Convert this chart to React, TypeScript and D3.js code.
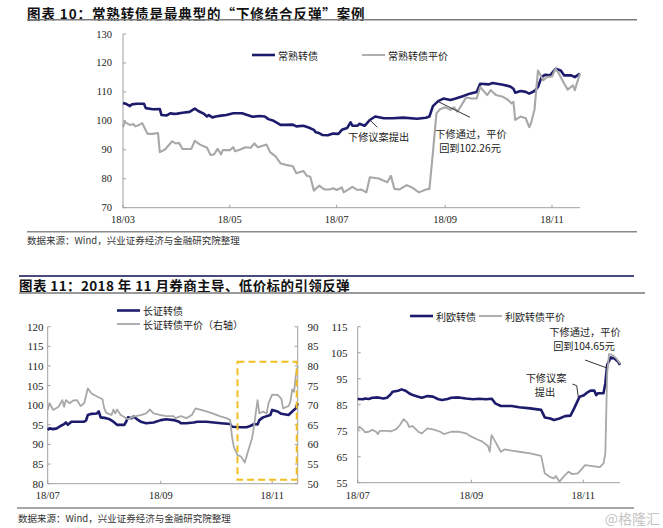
import React from 'react'
import * as d3 from 'd3'

const NAVY = '#1d1c6c'
const GREY = '#a8a8a8'
const AXIS = '#a0a0a0'
const SERIF = '"Liberation Serif", "Times New Roman", serif'
const SANS = '"Noto Sans CJK SC", "Noto Sans", sans-serif'

// 图表10：常熟转债 / 常熟转债平价 (2018)
const csBond: [string, number][] = [
  ['03-01', 106.2], ['03-03', 105.8], ['03-05', 105.1], ['03-06', 105.7], ['03-09', 105.9],
  ['03-13', 105.9], ['03-14', 104.4], ['03-18', 104.0], ['03-22', 104.1], ['03-23', 102.0],
  ['03-26', 101.9], ['03-28', 102.6], ['03-30', 102.4], ['04-01', 102.5], ['04-04', 102.8],
  ['04-08', 103.1], ['04-11', 104.2], ['04-13', 103.4], ['04-16', 102.5], ['04-18', 101.5],
  ['04-19', 102.0], ['04-21', 101.2], ['04-23', 101.5], ['04-26', 101.8], ['04-29', 102.0],
  ['05-03', 102.6], ['05-08', 102.6], ['05-11', 102.0], ['05-14', 101.4], ['05-18', 101.7],
  ['05-21', 101.5], ['05-23', 100.6], ['05-26', 100.0], ['05-30', 98.6], ['06-02', 98.6],
  ['06-06', 98.7], ['06-08', 98.1], ['06-12', 98.3], ['06-15', 97.7], ['06-18', 96.9],
  ['06-19', 96.1], ['06-21', 95.8], ['06-23', 95.1], ['06-26', 95.0], ['06-29', 95.6],
  ['07-02', 95.5], ['07-04', 96.9], ['07-07', 97.5], ['07-09', 99.5], ['07-10', 98.3],
  ['07-13', 98.3], ['07-14', 99.0], ['07-17', 98.3], ['07-20', 100.3], ['07-23', 101.5],
  ['07-28', 100.9], ['08-02', 100.9], ['08-08', 101.1], ['08-16', 100.7], ['08-21', 101.1],
  ['08-23', 101.5], ['08-25', 105.1], ['08-28', 106.8], ['08-31', 107.7], ['09-04', 107.2],
  ['09-07', 107.7], ['09-11', 108.5], ['09-15', 109.4], ['09-19', 110.0], ['09-21', 112.8],
  ['09-26', 112.6], ['09-28', 113.1], ['10-04', 112.5], ['10-08', 111.9], ['10-10', 111.1],
  ['10-11', 109.7], ['10-14', 110.3], ['10-17', 110.0], ['10-19', 109.4], ['10-22', 110.3],
  ['10-24', 111.7], ['10-26', 115.1], ['10-28', 115.9], ['10-31', 115.7], ['11-03', 118.0],
  ['11-06', 117.4], ['11-08', 115.7], ['11-12', 115.7], ['11-14', 115.1], ['11-17', 116.3],
]
const csParity: [string, number][] = [
  ['03-01', 97.8], ['03-02', 99.8], ['03-03', 99.2], ['03-05', 98.6], ['03-07', 98.9],
  ['03-08', 98.1], ['03-10', 98.5], ['03-12', 99.2], ['03-15', 95.5], ['03-18', 95.5],
  ['03-21', 95.8], ['03-22', 89.2], ['03-25', 90.1], ['03-29', 92.9], ['03-31', 92.2],
  ['04-02', 92.4], ['04-04', 90.3], ['04-09', 90.3], ['04-11', 93.1], ['04-14', 91.8],
  ['04-18', 90.7], ['04-20', 88.2], ['04-22', 88.4], ['04-24', 90.3], ['04-26', 88.4],
  ['04-27', 89.9], ['05-01', 89.9], ['05-03', 90.9], ['05-04', 89.5], ['05-07', 90.1],
  ['05-10', 90.9], ['05-13', 90.7], ['05-15', 92.2], ['05-17', 90.9], ['05-22', 91.8],
  ['05-24', 89.2], ['05-27', 87.8], ['05-30', 85.3], ['06-02', 84.8], ['06-06', 84.3],
  ['06-08', 81.9], ['06-12', 82.7], ['06-14', 81.0], ['06-16', 80.7], ['06-18', 75.9],
  ['06-21', 77.6], ['06-24', 76.3], ['06-27', 76.3], ['06-29', 76.7], ['07-01', 76.1],
  ['07-04', 77.0], ['07-05', 75.3], ['07-08', 76.4], ['07-10', 77.2], ['07-13', 76.1],
  ['07-15', 76.3], ['07-18', 75.3], ['07-20', 80.5], ['07-25', 80.1], ['07-30', 78.8],
  ['08-01', 81.0], ['08-03', 76.5], ['08-06', 76.3], ['08-10', 77.8], ['08-13', 77.0],
  ['08-17', 75.3], ['08-21', 76.3], ['08-23', 76.5], ['08-25', 89.0], ['08-27', 102.6],
  ['08-29', 104.0], ['09-01', 104.7], ['09-04', 103.8], ['09-06', 104.7], ['09-08', 103.2],
  ['09-10', 105.1], ['09-13', 108.1], ['09-16', 107.7], ['09-19', 107.7], ['09-21', 111.7],
  ['09-25', 108.9], ['09-27', 110.6], ['09-30', 108.9], ['10-04', 108.3], ['10-07', 107.2],
  ['10-09', 106.0], ['10-10', 106.6], ['10-11', 100.3], ['10-14', 101.5], ['10-17', 100.9],
  ['10-19', 97.8], ['10-20', 99.2], ['10-22', 103.8], ['10-24', 117.4], ['10-27', 114.0],
  ['10-29', 115.1], ['11-01', 115.3], ['11-03', 118.0], ['11-05', 116.3], ['11-08', 112.8],
  ['11-10', 110.8], ['11-13', 112.3], ['11-14', 110.6], ['11-17', 116.3],
]
const csYTicks = [70, 80, 90, 100, 110, 120, 130]
const csXTicks = ['03-01', '05-01', '07-01', '09-01', '11-01']

// 图表11 左：长证转债 / 长证转债平价（右轴）
const czBond: [string, number][] = [
  ['07-01', 93.7], ['07-02', 94.1], ['07-04', 93.9], ['07-06', 94.1], ['07-08', 94.7],
  ['07-10', 95.2], ['07-11', 95.6], ['07-12', 95.0], ['07-14', 95.8], ['07-18', 95.8],
  ['07-21', 95.8], ['07-22', 96.1], ['07-23', 97.5], ['07-25', 97.8], ['07-28', 97.9],
  ['07-29', 98.4], ['07-30', 96.9], ['08-02', 96.7], ['08-04', 96.4], ['08-06', 95.8],
  ['08-08', 95.0], ['08-12', 95.0], ['08-13', 95.8], ['08-14', 96.9], ['08-16', 96.7],
  ['08-17', 97.1], ['08-19', 96.4], ['08-21', 95.8], ['08-24', 95.4], ['08-28', 95.6],
  ['09-01', 96.2], ['09-04', 96.4], ['09-08', 96.2], ['09-11', 95.8], ['09-12', 95.4],
  ['09-15', 95.4], ['09-19', 95.6], ['09-21', 95.8], ['09-26', 95.8], ['09-30', 95.6],
  ['10-04', 95.4], ['10-09', 95.2], ['10-10', 94.5], ['10-15', 94.4], ['10-18', 94.4],
  ['10-20', 94.7], ['10-22', 95.2], ['10-24', 95.1], ['10-25', 96.2], ['10-27', 96.9],
  ['10-31', 97.5], ['11-01', 98.8], ['11-04', 98.4], ['11-06', 97.8], ['11-10', 97.5],
  ['11-12', 98.4], ['11-14', 99.2], ['11-15', 100.5],
]
const czParity: [string, number][] = [
  ['07-01', 68.8], ['07-02', 70.5], ['07-04', 68.8], ['07-07', 69.6], ['07-09', 71.3],
  ['07-10', 69.6], ['07-11', 71.3], ['07-13', 70.5], ['07-15', 71.2], ['07-17', 71.3],
  ['07-19', 69.8], ['07-21', 70.5], ['07-23', 74.3], ['07-25', 73.0], ['07-28', 72.2],
  ['07-31', 71.5], ['08-01', 69.2], ['08-02', 68.1], ['08-05', 67.5], ['08-06', 68.9],
  ['08-07', 67.9], ['08-08', 68.9], ['08-10', 67.5], ['08-14', 66.4], ['08-17', 67.1],
  ['08-21', 67.5], ['08-24', 67.9], ['08-26', 68.9], ['08-28', 67.9], ['09-01', 67.5],
  ['09-04', 67.2], ['09-08', 67.2], ['09-09', 66.7], ['09-12', 67.2], ['09-15', 66.7],
  ['09-18', 67.5], ['09-20', 69.2], ['09-23', 68.8], ['09-26', 68.4], ['09-30', 67.8],
  ['10-04', 67.1], ['10-07', 66.7], ['10-09', 66.2], ['10-10', 62.0], ['10-11', 59.4],
  ['10-13', 57.3], ['10-15', 56.9], ['10-17', 55.4], ['10-19', 58.6], ['10-21', 61.6],
  ['10-22', 64.5], ['10-23', 67.9], ['10-24', 71.3], ['10-25', 67.9], ['10-27', 68.4],
  ['10-29', 67.9], ['10-30', 70.5], ['11-01', 72.7], ['11-04', 72.6], ['11-06', 71.7],
  ['11-07', 69.2], ['11-10', 69.8], ['11-11', 70.9], ['11-12', 74.0], ['11-13', 73.4],
  ['11-14', 77.7], ['11-15', 79.8],
]
const czLeftTicks = [80, 85, 90, 95, 100, 105, 110, 115, 120]
const czRightTicks = [50, 55, 60, 65, 70, 75, 80, 85, 90]
const bottomXTicks = ['07-01', '09-01', '11-01']

// 图表11 右：利欧转债 / 利欧转债平价
const loBond: [string, number][] = [
  ['07-01', 87.2], ['07-04', 87.1], ['07-05', 87.4], ['07-07', 87.2], ['07-09', 87.7],
  ['07-12', 87.8], ['07-15', 87.4], ['07-17', 87.7], ['07-19', 89.0], ['07-20', 90.0],
  ['07-23', 90.4], ['07-25', 90.9], ['07-27', 90.4], ['07-29', 89.4], ['07-31', 88.7],
  ['08-03', 88.1], ['08-05', 87.7], ['08-08', 88.3], ['08-11', 88.1], ['08-14', 87.1],
  ['08-16', 86.8], ['08-19', 87.2], ['08-21', 87.7], ['08-25', 87.8], ['08-29', 87.4],
  ['09-02', 87.1], ['09-05', 87.3], ['09-09', 87.1], ['09-12', 87.3], ['09-13', 86.5],
  ['09-14', 85.5], ['09-17', 84.5], ['09-20', 84.5], ['09-23', 84.5], ['09-27', 84.0],
  ['10-03', 83.6], ['10-09', 83.0], ['10-11', 80.1], ['10-14', 79.7], ['10-16', 79.1],
  ['10-19', 79.7], ['10-22', 80.6], ['10-25', 80.8], ['10-27', 83.6], ['10-30', 88.1],
  ['11-01', 88.5], ['11-03', 89.6], ['11-05', 90.4], ['11-07', 90.4], ['11-08', 88.7],
  ['11-09', 89.4], ['11-12', 89.4], ['11-13', 93.2], ['11-14', 100.3], ['11-16', 103.2],
  ['11-18', 102.8], ['11-20', 101.5], ['11-21', 100.3],
]
const loParity: [string, number][] = [
  ['07-01', 75.5], ['07-02', 76.5], ['07-04', 75.3], ['07-05', 74.4], ['07-07', 74.6],
  ['07-09', 75.3], ['07-11', 74.6], ['07-12', 73.7], ['07-13', 74.9], ['07-17', 74.9],
  ['07-19', 74.7], ['07-22', 75.6], ['07-24', 77.2], ['07-26', 79.4], ['07-28', 78.1],
  ['07-29', 76.5], ['07-31', 76.8], ['08-03', 74.6], ['08-05', 74.0], ['08-08', 75.9],
  ['08-11', 75.5], ['08-15', 74.6], ['08-17', 73.7], ['08-21', 74.6], ['08-25', 74.6],
  ['08-29', 74.0], ['09-01', 72.7], ['09-04', 71.7], ['09-07', 70.8], ['09-10', 69.1],
  ['09-11', 66.9], ['09-12', 73.3], ['09-14', 70.8], ['09-17', 66.9], ['09-19', 67.8],
  ['09-23', 67.3], ['09-27', 66.9], ['10-03', 66.3], ['10-09', 65.3], ['10-11', 58.6],
  ['10-14', 57.1], ['10-16', 56.7], ['10-17', 57.6], ['10-19', 55.4], ['10-22', 57.9],
  ['10-24', 59.2], ['10-26', 58.3], ['10-29', 58.6], ['10-31', 60.1], ['11-02', 61.8],
  ['11-05', 61.5], ['11-08', 61.2], ['11-10', 61.0], ['11-12', 62.4], ['11-13', 66.0],
  ['11-14', 97.0], ['11-15', 104.5], ['11-17', 104.1], ['11-19', 102.8], ['11-21', 100.9],
]
const loYTicks = [55, 65, 75, 85, 95, 105, 115]

const parse = (md: string) => new Date(`2018-${md}T00:00:00`)
const fmt = d3.timeFormat('%y/%m')

function linePath(data: [string, number][], x: any, y: any) {
  return d3.line<[string, number]>()
    .x(d => x(parse(d[0])))
    .y(d => y(d[1]))(data) || ''
}

function LeftAxis({ y, ticks, x, labelX, size = 10.5 }: any) {
  const [y0, y1] = y.range()
  return (
    <g>
      <line x1={x} x2={x} y1={y0} y2={y1} stroke={AXIS} strokeWidth={1} />
      {ticks.map((t: number) => (
        <g key={t}>
          <line x1={x} x2={x + 3} y1={y(t)} y2={y(t)} stroke={AXIS} />
          <text x={labelX} y={y(t)} textAnchor="end" dominantBaseline="central"
            fontFamily={SERIF} fontSize={size} fill="#222">{t}</text>
        </g>
      ))}
    </g>
  )
}

function RightAxis({ y, ticks, x, labelX, size = 10.5 }: any) {
  const [y0, y1] = y.range()
  return (
    <g>
      <line x1={x} x2={x} y1={y0} y2={y1} stroke={AXIS} strokeWidth={1} />
      {ticks.map((t: number) => (
        <g key={t}>
          <line x1={x} x2={x - 3} y1={y(t)} y2={y(t)} stroke={AXIS} />
          <text x={labelX} y={y(t)} textAnchor="start" dominantBaseline="central"
            fontFamily={SERIF} fontSize={size} fill="#222">{t}</text>
        </g>
      ))}
    </g>
  )
}

function BottomAxis({ x, ticks, y, labelY, size = 10.5 }: any) {
  const [x0, x1] = x.range()
  return (
    <g>
      <line x1={x0} x2={x1} y1={y} y2={y} stroke={AXIS} strokeWidth={1} />
      {ticks.map((t: string) => (
        <g key={t}>
          <line x1={x(parse(t))} x2={x(parse(t))} y1={y} y2={y - 3} stroke={AXIS} />
          <text x={x(parse(t))} y={labelY} textAnchor="middle" dominantBaseline="central"
            fontFamily={SERIF} fontSize={size} fill="#222">{fmt(parse(t))}</text>
        </g>
      ))}
    </g>
  )
}

function Legend({ x, y, color, width, label }: any) {
  return (
    <g>
      <line x1={x} x2={x + 23} y1={y} y2={y} stroke={color} strokeWidth={width} />
      <text x={x + 26} y={y} dominantBaseline="central" fontFamily={SANS} fontSize={10} fill="#222">{label}</text>
    </g>
  )
}

function Note({ x, y, children, anchor = 'middle' }: any) {
  return (
    <text x={x} y={y} textAnchor={anchor} dominantBaseline="central"
      fontFamily={SANS} fontSize={10.2} fill="#222">{children}</text>
  )
}

export default function App() {
  // 图表10 scales
  const xTop = d3.scaleTime().domain([parse('03-01'), parse('11-17')]).range([123, 580])
  const yTop = d3.scaleLinear().domain([70, 130]).range([207.7, 34])

  // 图表11 left
  const xBL = d3.scaleTime().domain([parse('07-01'), parse('11-15')]).range([47.7, 297.7])
  const yBL = d3.scaleLinear().domain([80, 120]).range([483.7, 326.7])
  const yBLR = d3.scaleLinear().domain([50, 90]).range([483.7, 326.7])

  // 图表11 right
  const xBR = d3.scaleTime().domain([parse('07-01'), parse('11-21')]).range([357.7, 620])
  const yBR = d3.scaleLinear().domain([55, 115]).range([482.7, 326.7])

  const boxX0 = xBL(parse('10-13'))
  const boxX1 = xBL(parse('11-15')) - 1
  const boxY0 = yBL(111.1)
  const boxY1 = yBL(81)

  return (
    <div style={{ position: 'fixed', left: 0, top: 0, background: '#fff' }}>
      <svg width={663} height={528} style={{ display: 'block' }}>
        <rect width={663} height={528} fill="#fff" />

        {/* 图表10 title */}
        <text x={27} y={13} dominantBaseline="central" fontFamily={SANS} fontWeight={700}
          fontSize={13.5} letterSpacing={0.9} fill="#111">图表 10：常熟转债是最典型的“下修结合反弹”案例</text>
        <line x1={27} x2={637} y1={19.8} y2={19.8} stroke="#7a7a7a" strokeWidth={1.5} />

        <LeftAxis y={yTop} ticks={csYTicks} x={123} labelX={112} />
        <BottomAxis x={xTop} ticks={csXTicks} y={207.7} labelY={219.5} />
        <path d={linePath(csBond, xTop, yTop)} fill="none" stroke={NAVY} strokeWidth={2.6} strokeLinejoin="round" />
        <path d={linePath(csParity, xTop, yTop)} fill="none" stroke={GREY} strokeWidth={2.1} strokeLinejoin="round" />

        <Legend x={252} y={55} color={NAVY} width={2.6} label="常熟转债" />
        <Legend x={362} y={55} color={GREY} width={1.8} label="常熟转债平价" />

        <line x1={369.3} y1={119.3} x2={377.3} y2={127.3} stroke="#333" strokeWidth={1} />
        <Note x={348} y={136.7} anchor="start">下修议案提出</Note>
        <line x1={438.3} y1={101.7} x2={470} y2={117.3} stroke="#333" strokeWidth={1} />
        <Note x={471} y={133.3}>下修通过，平价</Note>
        <Note x={470} y={147}>回到102.26元</Note>

        {/* source */}
        <line x1={27} x2={637} y1={231.7} y2={231.7} stroke="#8a8a8a" strokeWidth={1.5} />
        <text x={27} y={240} dominantBaseline="central" fontFamily={SANS} fontSize={9.5} fill="#333">数据来源：Wind，兴业证券经济与金融研究院整理</text>

        {/* 图表11 title */}
        <line x1={19} x2={634} y1={276} y2={276} stroke="#4b4a7c" strokeWidth={1.8} />
        <text x={19} y={285} dominantBaseline="central" fontFamily={SANS} fontWeight={700}
          fontSize={13.5} letterSpacing={0.4} fill="#111">图表 11：2018 年 11 月券商主导、低价标的引领反弹</text>
        <line x1={19} x2={645} y1={293} y2={293} stroke="#9a9a9a" strokeWidth={1.8} />

        {/* 左：长证 */}
        <LeftAxis y={yBL} ticks={czLeftTicks} x={47.7} labelX={43.5} size={11} />
        <RightAxis y={yBLR} ticks={czRightTicks} x={297.7} labelX={307.5} size={11} />
        <BottomAxis x={xBL} ticks={bottomXTicks} y={483.7} labelY={495.5} size={10.5} />
        <path d={linePath(czBond, xBL, yBL)} fill="none" stroke={NAVY} strokeWidth={2.6} strokeLinejoin="round" />
        <path d={linePath(czParity, xBL, yBLR)} fill="none" stroke={GREY} strokeWidth={1.8} strokeLinejoin="round" />
        <rect x={boxX0} y={boxY0} width={boxX1 - boxX0} height={boxY1 - boxY0}
          fill="none" stroke="#f2bf22" strokeWidth={2} strokeDasharray="7,4" />
        <Legend x={117} y={310.5} color={NAVY} width={2.6} label="长证转债" />
        <Legend x={117} y={324} color={GREY} width={1.8} label="长证转债平价（右轴）" />

        {/* 右：利欧 */}
        <LeftAxis y={yBR} ticks={loYTicks} x={357.7} labelX={347.5} size={11} />
        <BottomAxis x={xBR} ticks={bottomXTicks} y={482.7} labelY={495} size={10.5} />
        <path d={linePath(loBond, xBR, yBR)} fill="none" stroke={NAVY} strokeWidth={2.6} strokeLinejoin="round" />
        <path d={linePath(loParity, xBR, yBR)} fill="none" stroke={GREY} strokeWidth={1.8} strokeLinejoin="round" />
        <Legend x={410} y={316} color={NAVY} width={2.6} label="利欧转债" />
        <Legend x={479} y={316} color={GREY} width={1.8} label="利欧转债平价" />

        <Note x={585} y={331.7}>下修通过，平价</Note>
        <Note x={584} y={345.5}>回到104.65元</Note>
        <line x1={585} y1={360} x2={607} y2={368} stroke="#333" strokeWidth={1} />
        <Note x={546} y={377.5}>下修议案</Note>
        <Note x={545} y={391}>提出</Note>
        <polyline points="572.3,384 576.7,385.7 578.3,397" fill="none" stroke="#333" strokeWidth={1} />

        {/* source */}
        <line x1={17} x2={634} y1={508} y2={508} stroke="#8a8a8a" strokeWidth={1.5} />
        <text x={18} y={518} dominantBaseline="central" fontFamily={SANS} fontSize={9.5} fill="#333">数据来源：Wind，兴业证券经济与金融研究院整理</text>
        <text x={660} y={518} textAnchor="end" dominantBaseline="central" fontFamily={SANS} fontSize={14} fill="#c4c4c4">@格隆汇</text>
      </svg>
    </div>
  )
}
